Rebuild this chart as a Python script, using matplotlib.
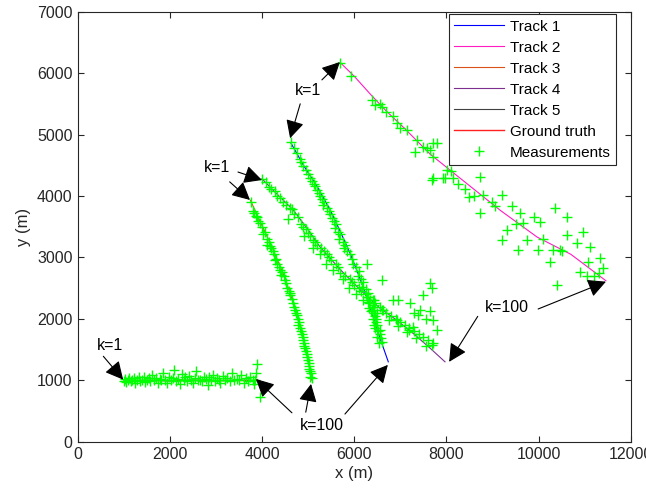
import matplotlib
matplotlib.use("Agg")
import matplotlib.pyplot as plt

plt.rcParams["font.family"] = ["Liberation Sans", "DejaVu Sans"]

# estimated tracks (x, y) in metres
track1 = [(4630, 4860), (4900, 4500), (5200, 4150), (5480, 3770), (5700, 3420), (5910, 3070),
          (6130, 2650), (6340, 2200), (6530, 1750), (6740, 1300)]
track2 = [(5700, 6170), (6000, 5950), (6360, 5650), (6700, 5380), (7080, 5110), (7650, 4680),
          (8380, 4240), (9180, 3760), (9970, 3330), (10700, 3050), (11460, 2620)]
track3 = [(3750, 3930), (3950, 3600), (4200, 3200), (4460, 2740), (4620, 2400), (4750, 2090),
          (4880, 1750), (4970, 1440), (5050, 1150), (5080, 1000)]
track4 = [(4000, 4280), (4300, 4050), (4680, 3770), (5000, 3450), (5260, 3170), (5700, 2800),
          (6200, 2420), (6550, 2180), (6920, 1980), (7300, 1750), (7650, 1520), (7970, 1300)]
track5 = [(1000, 985), (1500, 1000), (2000, 990), (2500, 1003), (3000, 992), (3500, 1002), (3880, 995)]

truth_x = [1000, 3900]
truth_y = [1000, 1000]

meas1 = [(4640, 4880), (4700, 4780), (4760, 4700), (4820, 4600), (4850, 4560), (4900, 4480), (4960, 4420),
         (5000, 4350), (5050, 4300), (5080, 4240), (5120, 4200), (5150, 4160), (5200, 4100), (5230, 4050),
         (5260, 4000), (5300, 3950), (5350, 3900), (5330, 3850), (5400, 3800), (5450, 3750), (5480, 3700),
         (5520, 3640), (5560, 3600), (5600, 3550), (5580, 3480), (5640, 3420), (5700, 3380), (5680, 3300),
         (5750, 3250), (5800, 3200), (5780, 3150), (5850, 3100), (5900, 3050), (5950, 2980), (5980, 2900),
         (6050, 2850), (6100, 2780), (6080, 2700), (6150, 2650), (6200, 2600), (6180, 2520), (6250, 2480),
         (6300, 2420), (6280, 2350), (6350, 2300), (6320, 2250), (6400, 2200), (6380, 2150), (6420, 2100),
         (6450, 2050), (6400, 2000), (6480, 1950), (6500, 1900), (6450, 1850), (6520, 1800), (6550, 1750),
         (6500, 1700), (6580, 1680), (6600, 1620), (6540, 1600), (6430, 2230), (6360, 2120), (6470, 1990),
         (6330, 2180), (6420, 1900), (6560, 1820), (6300, 2280), (6440, 2310)]
meas2 = [(5690, 6170), (5930, 5950), (6380, 5560), (6450, 5480), (6550, 5500), (6700, 5370), (6850, 5300),
         (6920, 5180), (7140, 5070), (7360, 4910), (7320, 4720), (7570, 4780), (7650, 4750), (7720, 4860),
         (7790, 4860), (7720, 4640), (7680, 4260), (7720, 4290), (7930, 4290), (7970, 4290), (8010, 4420),
         (8110, 4400), (8400, 4120), (8730, 4310), (8480, 3990), (8800, 4020), (9200, 4020), (8730, 3720),
         (9050, 3830), (9420, 3830), (9310, 3450), (9200, 3280), (9600, 3720), (9890, 3660), (10030, 3580),
         (9670, 3560), (9560, 3120), (9990, 3120), (9740, 3280), (10360, 3800), (10610, 3660), (10610, 3370),
         (10970, 3420), (10830, 3230), (10320, 3120), (10460, 3120), (10250, 2930), (11120, 3170),
         (11080, 2930), (11330, 2990), (11400, 2820), (11300, 2740), (10900, 2770), (10390, 2550),
         (11040, 2690), (8250, 4200), (8600, 4000), (9000, 3900), (9500, 3550), (10100, 3300), (10500, 3100),
         (11200, 2700), (6600, 5450), (7000, 5100), (7500, 4800), (8150, 4300)]
meas3 = [(3760, 3900), (3830, 3720), (3870, 3680), (3800, 3760), (3900, 3650), (3950, 3560), (3920, 3600),
         (4000, 3500), (4060, 3420), (4030, 3380), (4100, 3300), (4150, 3250), (4120, 3200), (4200, 3150),
         (4230, 3100), (4180, 3180), (4270, 3050), (4300, 2980), (4330, 2900), (4280, 2950), (4380, 2850),
         (4400, 2800), (4440, 2760), (4470, 2700), (4420, 2720), (4500, 2640), (4520, 2580), (4550, 2500),
         (4580, 2460), (4610, 2420), (4600, 2380), (4650, 2330), (4680, 2250), (4700, 2200), (4720, 2150),
         (4740, 2100), (4760, 2060), (4780, 2000), (4800, 1950), (4790, 1900), (4830, 1850), (4850, 1800),
         (4870, 1760), (4880, 1700), (4900, 1650), (4920, 1600), (4910, 1560), (4940, 1520), (4960, 1480),
         (4980, 1420), (4970, 1380), (5000, 1330), (5010, 1280), (5030, 1230), (5020, 1190), (5040, 1150),
         (5060, 1110), (5050, 1060), (5080, 1030)]
meas4 = [(4010, 4280), (4080, 4230), (4150, 4150), (4200, 4120), (4280, 4080), (4320, 4000), (4400, 3960),
         (4450, 3900), (4520, 3850), (4600, 3800), (4650, 3780), (4700, 3700), (4560, 3620), (4780, 3650),
         (4850, 3550), (4900, 3500), (4950, 3460), (5000, 3400), (4920, 3350), (5050, 3350), (5100, 3280),
         (5150, 3250), (5200, 3200), (5100, 3150), (5280, 3150), (5350, 3100), (5250, 3050), (5400, 3050),
         (5450, 3000), (5500, 2950), (5380, 2900), (5600, 2900), (5650, 2850), (5550, 2800), (5700, 2750),
         (5800, 2700), (5750, 2650), (5900, 2650), (5950, 2600), (6000, 2550), (5880, 2500), (6100, 2500),
         (6150, 2450), (6050, 2400), (6250, 2400), (6300, 2350), (6200, 2300), (6400, 2300), (6450, 2250),
         (6550, 2200), (6600, 2150), (6500, 2100), (6700, 2100), (6800, 2050), (6750, 1980), (6900, 2000),
         (7000, 1950), (6950, 1880), (7100, 1900), (7200, 1850), (7150, 1780), (7300, 1800), (7400, 1750),
         (7350, 1680), (7500, 1700), (7600, 1650), (7700, 1600), (7550, 1550)]
meas5 = [(1000, 990), (1030, 1020), (1060, 970), (1090, 1010), (1120, 1040), (1150, 980), (1180, 1000),
         (1220, 1030), (1250, 960), (1290, 1010), (1330, 1050), (1360, 990), (1400, 1000), (1440, 1060),
         (1470, 970), (1510, 1010), (1550, 1030), (1580, 980), (1620, 1080), (1660, 1000), (1700, 1040),
         (1740, 960), (1780, 1020), (1820, 1000), (1860, 1110), (1900, 1000), (1940, 950), (1980, 1060),
         (2020, 1000), (2060, 1040), (2100, 1170), (2140, 990), (2180, 1020), (2220, 940), (2260, 1100),
         (2300, 1010), (2340, 1050), (2380, 980), (2420, 1070), (2460, 1000), (2500, 960), (2540, 1030),
         (2580, 1150), (2620, 1000), (2660, 1010), (2700, 980), (2740, 1060), (2780, 1020), (2820, 920),
         (2860, 1050), (2900, 1000), (2940, 1090), (2980, 980), (3020, 1030), (3060, 1010), (3100, 960),
         (3150, 1070), (3200, 1000), (3250, 1040), (3300, 980), (3350, 1120), (3400, 1010), (3450, 1020),
         (3500, 1000), (3550, 1080), (3600, 950), (3650, 1030), (3700, 990), (3750, 1060), (3800, 1010),
         (3850, 1000), (3900, 1270), (3960, 720), (3880, 1110), (3820, 940)]
clutter = [(7650, 2580), (7680, 2500), (7500, 2390), (7210, 2250), (7430, 2140), (7650, 2120), (7720, 1980),
           (7790, 1820), (7680, 1570), (7280, 1870), (7180, 1820), (6920, 1980), (6850, 2310), (6600, 2630),
           (6270, 2900), (6630, 2140), (6960, 2310), (7390, 2060), (7300, 2100), (7550, 2000)]

track_colors = ["#0000FF", "#FF1CC0", "#D95319", "#7E2F8E", "#404040"]
track_labels = ["Track 1", "Track 2", "Track 3", "Track 4", "Track 5"]

fs = 11.5

fig = plt.figure(figsize=(6.46, 4.98), dpi=100)
ax = fig.add_axes([0.12, 0.1131, 0.8565, 0.8634])

for trk, col, lab in zip([track1, track2, track3, track4, track5], track_colors, track_labels):
    ax.plot([p[0] for p in trk], [p[1] for p in trk], color=col, lw=0.8, label=lab, zorder=2)
ax.plot(truth_x, truth_y, color="#FF2020", lw=1.0, label="Ground truth", zorder=2.5)

meas = meas1 + meas2 + meas3 + meas4 + meas5 + clutter
ax.plot([p[0] for p in meas], [p[1] for p in meas], "+", color="#00FF00", ms=7, mew=1.0,
        label="Measurements", zorder=3)

arrow = dict(arrowstyle="-|>,head_length=0.55,head_width=0.28", color="k", lw=0.8,
             mutation_scale=20, shrinkA=0, shrinkB=0)

# k=1 labels
ax.text(700, 1570, "k=1", ha="center", va="center", fontsize=fs)
ax.annotate("", xy=(990, 1010), xytext=(560, 1390), arrowprops=arrow)

ax.text(3030, 4470, "k=1", ha="center", va="center", fontsize=fs)
ax.annotate("", xy=(4000, 4260), xytext=(3480, 4390), arrowprops=arrow)
ax.annotate("", xy=(3740, 3935), xytext=(3300, 4230), arrowprops=arrow)

ax.text(5000, 5710, "k=1", ha="center", va="center", fontsize=fs)
ax.annotate("", xy=(4610, 4940), xytext=(4830, 5500), arrowprops=arrow)
ax.annotate("", xy=(5690, 6180), xytext=(5300, 5890), arrowprops=arrow)

# k=100 labels
ax.text(5300, 260, "k=100", ha="center", va="center", fontsize=fs)
ax.annotate("", xy=(3870, 1020), xytext=(4650, 470), arrowprops=arrow)
ax.annotate("", xy=(5065, 940), xytext=(4950, 480), arrowprops=arrow)
ax.annotate("", xy=(6730, 1250), xytext=(5800, 450), arrowprops=arrow)

ax.text(9320, 2180, "k=100", ha="center", va="center", fontsize=fs)
ax.annotate("", xy=(8060, 1300), xytext=(8680, 2040), arrowprops=arrow)
ax.annotate("", xy=(11460, 2605), xytext=(9990, 2160), arrowprops=arrow)

ax.set_xlim(0, 12000)
ax.set_ylim(0, 7000)
ax.set_xticks(range(0, 12001, 2000))
ax.set_yticks(range(0, 7001, 1000))
ax.tick_params(direction="in", top=True, right=True, length=4, labelsize=fs, colors="#262626")
for s in ax.spines.values():
    s.set_color("#262626")
    s.set_linewidth(0.8)
ax.set_xlabel("x (m)", fontsize=fs + 0.5, color="#262626", labelpad=3)
ax.set_ylabel("y (m)", fontsize=fs + 0.5, color="#262626", labelpad=4)

leg = ax.legend(loc="upper right", bbox_to_anchor=(0.973, 0.994), borderaxespad=0, fontsize=11,
                fancybox=False, framealpha=1, edgecolor="#262626", handlelength=3.3,
                handletextpad=0.35, labelspacing=0.46, borderpad=0.35)
leg.get_frame().set_linewidth(0.8)

fig.savefig("out.png", dpi=100)
